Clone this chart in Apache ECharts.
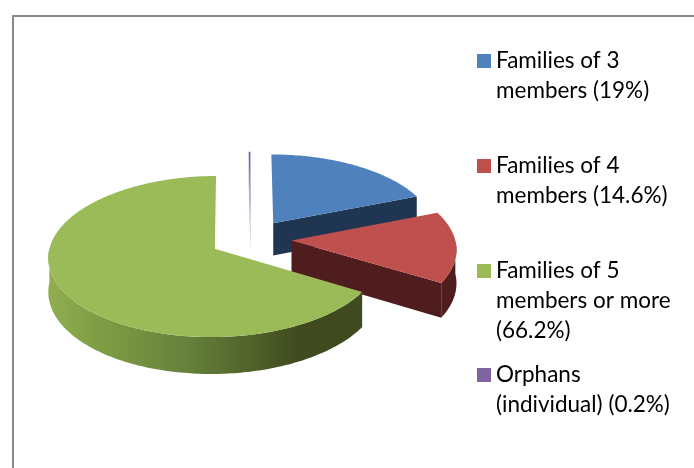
<!DOCTYPE html>
<html>
<head>
<meta charset="utf-8">
<style>
html, body { margin: 0; padding: 0; background: #fff; }
#main { width: 694px; height: 468px; }
</style>
<script src="https://cdn.jsdelivr.net/npm/echarts@6/dist/echarts.min.js"></script>
</head>
<body>
<div id="main"></div>
<script>
var categories = ['Families of 3\nmembers (19%)', 'Families of 4\nmembers (14.6%)', 'Families of 5\nmembers or more\n(66.2%)', 'Orphans\n(individual) (0.2%)'];
var shares = [19, 14.6, 66.2, 0.2];

var topColors = ['#4f81bd', '#c0504d', '#9bbb59', '#8064a2'];
var sideColors = ['#1f3552', '#4f1d1d', '#3f4b1e', '#b4a9c4'];
var layers = [2, 3, 4, 1];
var legendCenters = [61, 166, 271, 375];

var total = 0;
for (var i = 0; i < shares.length; i++) {
	total += shares[i];
}

// 3d pie seen in perspective: u to the right, v towards the viewer, radius 1
var X0 = 250.7, Y0 = 239, SX = 163.5, SY = 78, PERSP = 0.094, EXPLODE = 0.25, DEPTH = 33;
var LINE = 30;

function project(u, v, down) {
	var w = 1 - PERSP * v;
	return [X0 + SX * u / w, Y0 + SY * v / w + (down ? DEPTH / w : 0)];
}

function rimPoint(cu, cv, deg, down) {
	var r = deg * Math.PI / 180;
	return project(cu + Math.sin(r), cv - Math.cos(r), down);
}

function arcPoints(cu, cv, from, to, down) {
	var pts = [];
	var n = Math.max(2, Math.ceil(to - from));
	for (var j = 0; j <= n; j++) {
		pts.push(rimPoint(cu, cv, from + (to - from) * j / n, down));
	}
	return pts;
}

function renderSlice(params, api) {
	var idx = params.seriesIndex;
	var before = 0;
	for (var k = 0; k < idx; k++) {
		before += shares[k];
	}
	var start = before / total * 360;
	var end = (before + api.value(0)) / total * 360;
	var mid = (start + end) / 2 * Math.PI / 180;
	var cu = EXPLODE * Math.sin(mid);
	var cv = -EXPLODE * Math.cos(mid);

	var apex = project(cu, cv, false);
	var apexLow = project(cu, cv, true);
	var sideFill = sideColors[idx];
	var rimFill = sideFill;
	if (idx == 2) {
		// the green wall runs from lit on the left to dark on the right
		rimFill = new echarts.graphic.LinearGradient(0, 0, 1, 0, [
			{ offset: 0, color: '#90ae50' },
			{ offset: 0.15, color: '#7f9f45' },
			{ offset: 0.45, color: '#65803a' },
			{ offset: 0.8, color: '#3f4b1e' },
			{ offset: 1, color: '#3f4b1e' }
		]);
	}

	var children = [];
	// a cut face only shows when it turns towards the viewer
	if (Math.sin(start * Math.PI / 180) < -0.001) {
		children.push({ type: 'polygon', shape: { points: [apex, rimPoint(cu, cv, start, false), rimPoint(cu, cv, start, true), apexLow] }, style: { fill: sideFill } });
	}
	if (Math.sin(end * Math.PI / 180) > 0.001) {
		children.push({ type: 'polygon', shape: { points: [apex, rimPoint(cu, cv, end, false), rimPoint(cu, cv, end, true), apexLow] }, style: { fill: sideFill } });
	}
	// same for the outer wall, only the front half of the rim
	var wallFrom = Math.max(start, 90);
	var wallTo = Math.min(end, 270);
	if (wallFrom < wallTo) {
		var wallTop = arcPoints(cu, cv, wallFrom, wallTo, false);
		var wallLow = arcPoints(cu, cv, wallFrom, wallTo, true);
		children.push({ type: 'polygon', shape: { points: wallTop.concat(wallLow.reverse()) }, style: { fill: rimFill } });
	}
	children.push({ type: 'polygon', shape: { points: [apex].concat(arcPoints(cu, cv, start, end, false)) }, style: { fill: topColors[idx] } });

	return { type: 'group', children: children };
}

// the swatch sits in the middle of the text block, blank lines put it on the first line
function legendText(name) {
	var extra = name.split('\n').length - 1;
	var blank = '';
	for (var b = 0; b < extra; b++) {
		blank += '\n';
	}
	return blank + name;
}

var seriesList = [];
var legendList = [];
for (var s = 0; s < categories.length; s++) {
	var lines = categories[s].split('\n').length;
	seriesList.push({
		name: categories[s],
		type: 'custom',
		coordinateSystem: 'none',
		renderItem: renderSlice,
		z: layers[s],
		silent: true,
		itemStyle: { color: topColors[s] },
		data: [shares[s]]
	});
	legendList.push({
		orient: 'vertical',
		left: 477,
		top: legendCenters[s] - (lines - 1) * LINE - LINE / 2,
		padding: 0,
		itemWidth: 14,
		itemHeight: 14,
		itemGap: 0,
		selectedMode: false,
		icon: 'rect',
		data: [categories[s]],
		formatter: legendText,
		textStyle: {
			fontFamily: 'Lato',
			fontSize: 22.5,
			lineHeight: LINE,
			color: '#000'
		}
	});
}

var myChart = echarts.init(document.getElementById('main'));
var option = {
	backgroundColor: '#fff',
	animation: false,
	color: topColors,
	legend: legendList,
	graphic: [
		{
			type: 'polyline',
			shape: { points: [[13, 468], [13, 16], [694, 16]] },
			style: { fill: null, stroke: '#8a8a8a', lineWidth: 2 }
		}
	],
	series: seriesList
};
myChart.setOption(option);
</script>
</body>
</html>
